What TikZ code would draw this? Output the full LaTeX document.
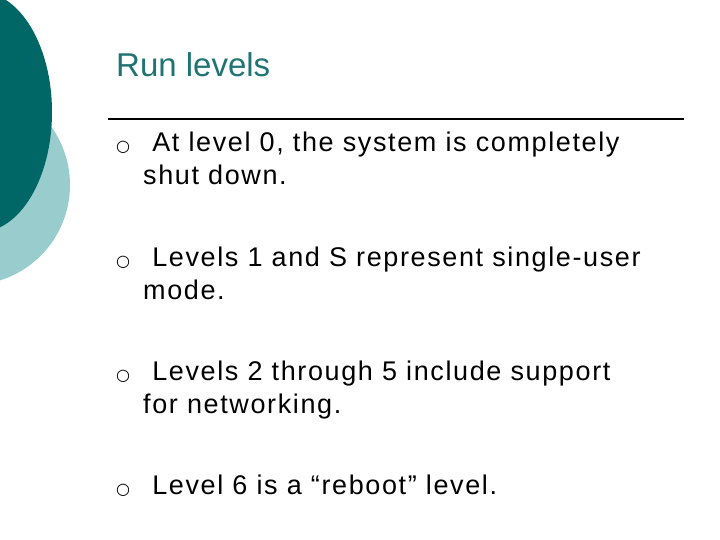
\documentclass[tikz,border=0pt]{standalone}
\usepackage{fontspec}
\setmainfont{Liberation Sans}
\newfontfamily\spacedfont[LetterSpace=6]{Liberation Sans}
\newfontfamily\dv{DejaVu Sans}
\definecolor{dark}{HTML}{006666}
\definecolor{light}{HTML}{99CCCC}
\definecolor{ttl}{HTML}{1F7373}
\tikzset{txt/.style={anchor=base west,inner sep=0,font=\spacedfont\fontsize{27}{32}\selectfont},
bul/.style={anchor=base west,inner sep=0,font=\dv\fontsize{16}{18}\selectfont}}
\begin{document}
\begin{tikzpicture}[x=1pt,y=-1pt]
\useasboundingbox (0,0) rectangle (720,540);
\clip (0,0) rectangle (720,540);
\fill[light] (-30,185) circle (100);
\fill[dark] (-20,112) ellipse (72 and 120);
\node[anchor=base west,inner sep=0,text=ttl,font=\fontsize{33}{38}\selectfont] (t) at (116,77) {Run levels};
\coordinate (l1) at (108,119); \coordinate (l2) at (684,119);
\draw[line width=1.2pt] (l1) -- (l2);
\foreach \y/\n in {152/a,266/b,380/c,494/d}{\node[bul] (b\n) at (116,\y) {○};}
\node[txt] (a1) at (143,152) {\ At level 0, the system is completely};
\node[txt] (a2) at (143,185) {shut down.};
\node[txt] (b1) at (143,266) {\ Levels 1 and S represent single-user};
\node[txt] (b2) at (143,299) {mode.};
\node[txt] (c1) at (143,380) {\ Levels 2 through 5 include support};
\node[txt] (c2) at (143,413) {for networking.};
\node[txt] (d1) at (143,494) {\ Level 6 is a “reboot” level.};
\end{tikzpicture}
\end{document}
